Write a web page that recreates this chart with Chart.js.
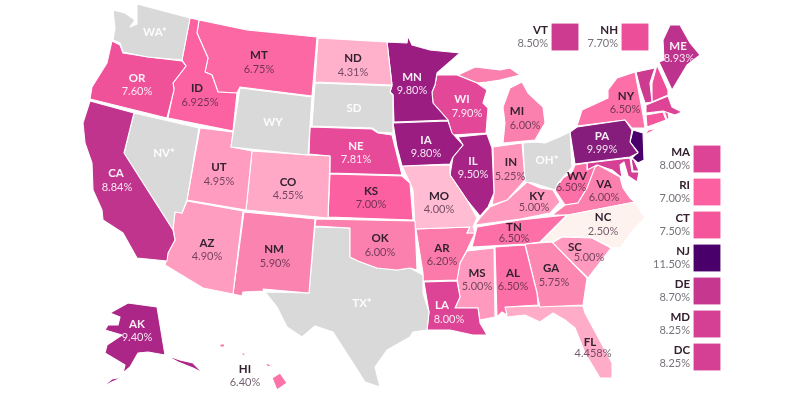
<!DOCTYPE html>
<html>
<head>
<meta charset="utf-8">
<script src="https://cdn.jsdelivr.net/npm/chart.js@4"></script>
<style>
    html, body { margin: 0; padding: 0; background: #fff; }
    #map { display: block; }
</style>
</head>
<body>
<canvas id="map" width="800" height="400"></canvas>
<script>
// rates per state, empty = grey state
const mapCodes = ['WA*','OR','CA','NV*','ID','MT','WY','UT','CO','AZ','NM','ND','SD','NE','KS','OK','TX*','MN','IA','MO','AR','LA','WI','IL','MI','IN','OH*','KY','TN','MS','AL','GA','FL','SC','NC','VA','WV','PA','NY','ME','AK','HI'];
const mapRates = ['','7.60%','8.84%','','6.925%','6.75%','','4.95%','4.55%','4.90%','5.90%','4.31%','','7.81%','7.00%','6.00%','','9.80%','9.80%','4.00%','6.20%','8.00%','7.90%','9.50%','6.00%','5.25%','','5.00%','6.50%','5.00%','6.50%','5.75%','4.458%','5.00%','2.50%','6.00%','6.50%','9.99%','6.50%','8.93%','9.40%','6.40%'];
const sideCodes = ['VT','NH','MA','RI','CT','NJ','DE','MD','DC'];
const sideRates = ['8.50%','7.70%','8.00%','7.00%','7.50%','11.50%','8.70%','8.25%','8.25%'];

// outlines, in picture units
const shapeWA = [[137,4],[190,18],[182,60],[148,57],[123,52],[120,43],[113,40],[115,28],[113,10],[125,13],[135,20],[130,27],[137,24]];
const shapeOR = [[112,41],[120,45],[123,53],[148,57],[182,61],[186,66],[173,83],[174,90],[167,118],[90,99],[92,87],[107,63]];
const shapeCA = [[90,101],[134,113],[124,153],[173,230],[175,240],[168,253],[167,261],[137,258],[123,233],[103,220],[102,210],[93,190],[92,163],[85,143],[83,123]];
const shapeNV = [[134,113],[199,128],[187,200],[182,213],[175,212],[173,230],[124,153]];
const shapeID = [[190,18],[199,20],[197,33],[208,58],[205,72],[212,75],[218,92],[237,93],[233,131],[168,118],[174,88],[173,83],[186,66],[182,60]];
const shapeMT = [[199,20],[247,30],[317,37],[312,96],[240,87],[237,93],[218,92],[212,75],[205,72],[208,58],[197,33]];
const shapeWY = [[240,88],[312,97],[308,155],[231,147]];
const shapeUT = [[200,128],[233,132],[231,147],[252,151],[246,210],[187,200]];
const shapeCO = [[252,151],[309,155],[330,156],[328,218],[246,210]];
const shapeAZ = [[187,201],[243,211],[233,294],[203,288],[165,265],[168,253],[175,240],[173,227],[175,212],[182,213]];
const shapeNM = [[244,212],[315,219],[309,293],[263,289],[264,291],[243,292],[242,296],[233,294]];
const shapeND = [[318,38],[387,42],[392,85],[315,82]];
const shapeSD = [[315,83],[392,86],[390,92],[393,95],[393,133],[378,132],[372,128],[312,126]];
const shapeNE = [[310,127],[372,129],[378,133],[392,135],[402,175],[330,173],[330,156],[309,154]];
const shapeKS = [[330,174],[402,176],[410,183],[413,220],[328,217]];
const shapeOK = [[316,219],[415,221],[417,270],[410,268],[397,270],[377,268],[358,261],[350,257],[350,228],[315,226]];
const shapeTX = [[315,227],[350,228],[350,257],[358,261],[377,268],[397,270],[410,268],[423,275],[423,293],[429,312],[427,330],[413,332],[410,337],[387,350],[375,367],[380,387],[365,382],[353,363],[340,343],[333,332],[315,326],[302,337],[287,327],[277,307],[265,292],[309,293]];
const shapeMN = [[387,42],[407,43],[408,36],[412,45],[430,50],[460,53],[437,73],[435,85],[432,92],[433,103],[448,120],[394,122],[393,95],[390,92],[392,85]];
const shapeIA = [[393,123],[448,121],[452,133],[463,145],[453,157],[450,164],[402,166],[397,147]];
const shapeMO = [[402,166],[450,165],[450,175],[467,200],[477,218],[473,227],[475,233],[467,233],[470,227],[415,229],[413,190],[410,183]];
const shapeAR = [[416,229],[470,227],[467,233],[475,233],[467,250],[460,263],[457,280],[423,281],[423,273]];
const shapeLA = [[424,282],[457,281],[460,297],[455,308],[478,308],[480,323],[487,335],[473,335],[450,330],[427,330],[429,312]];
const shapeWI = [[437,75],[457,75],[477,83],[487,90],[483,103],[488,108],[486,133],[452,135],[448,120],[433,103],[432,92],[435,85]];
const shapeIL = [[458,137],[487,134],[492,148],[494,193],[488,207],[480,216],[467,200],[450,175],[453,157],[463,145]];
const shapeMIlow = [[503,107],[510,88],[522,82],[528,93],[543,107],[545,123],[535,140],[503,143],[505,123]];
const shapeMIup = [[458,75],[475,67],[500,70],[510,68],[520,75],[500,80],[487,82],[477,83]];
const shapeIN = [[493,147],[522,143],[525,180],[507,200],[492,205],[494,193]];
const shapeOH = [[523,143],[535,142],[545,143],[557,138],[570,132],[572,167],[558,183],[555,190],[533,183],[525,182]];
const shapeKY = [[475,225],[480,218],[490,207],[507,200],[527,182],[540,188],[553,190],[560,202],[550,213],[520,219]];
const shapeTN = [[472,247],[477,227],[520,220],[567,215],[540,242],[525,244]];
const shapeMS = [[467,251],[494,248],[495,317],[480,320],[478,308],[455,308],[460,297],[457,278],[460,263]];
const shapeAL = [[495,247],[525,245],[537,293],[538,305],[505,307],[507,315],[502,312],[497,317]];
const shapeGA = [[525,244],[552,242],[587,278],[583,305],[540,307],[537,293]];
const shapeFL = [[505,307],[538,306],[583,306],[585,313],[612,363],[612,378],[600,378],[585,353],[575,328],[565,320],[553,313],[540,322],[525,315],[507,317]];
const shapeSC = [[552,243],[562,237],[592,238],[611,248],[588,278]];
const shapeNC = [[540,242],[568,215],[635,202],[645,218],[633,230],[620,248],[611,247],[592,237],[562,237],[552,242]];
const shapeVA = [[552,215],[565,205],[578,203],[587,188],[595,167],[598,165],[620,177],[623,188],[630,198],[635,202],[568,215]];
const shapeWV = [[555,190],[563,178],[572,172],[575,165],[587,163],[587,170],[597,165],[595,172],[587,188],[578,203],[565,205]];
const shapePA = [[570,132],[577,127],[625,120],[632,130],[630,142],[638,153],[630,157],[575,164]];
const shapeNJ = [[633,130],[643,133],[644,160],[638,163],[632,158],[638,152],[630,142]];
const shapeNY = [[582,110],[608,98],[608,90],[617,78],[635,72],[643,115],[645,128],[632,128],[625,120],[577,126]];
const shapeLI = [[645,135],[658,128],[648,130]];
const shapeVT = [[636,72],[655,68],[650,83],[652,102],[645,103],[640,88]];
const shapeNH = [[657,65],[668,90],[668,95],[652,102],[652,83]];
const shapeME = [[659,62],[664,60],[663,40],[670,25],[680,25],[690,43],[700,55],[687,65],[672,90]];
const shapeMA = [[646,105],[668,96],[672,107],[682,112],[675,115],[663,111],[646,113]];
const shapeCT = [[646,115],[663,112],[666,120],[647,127]];
const shapeRI = [[664,111],[668,112],[669,118],[667,120]];
const shapeMD = [[587,163],[630,158],[632,172],[639,172],[637,182],[628,176],[624,162],[620,165],[622,178],[612,170],[600,166],[588,172]];
const shapeDE = [[631,158],[634,160],[639,171],[633,171]];
const shapeAK = [[110,313],[128,303],[157,307],[165,355],[148,352],[138,353],[130,367],[123,373],[125,365],[105,353],[107,345],[122,335],[105,330],[108,325],[118,325],[120,317]];
const shapeAKpan = [[165,355],[180,360],[193,363],[203,373],[193,368],[178,362]];
const shapeAKisl = [[123,377],[112,382],[102,387],[112,379]];
const shapeHIbig = [[272,378],[280,373],[287,383],[277,390]];
const shapeHImaui = [[265,363],[272,365],[268,367]];
const shapeHIoahu = [[241,352],[246,354],[243,356]];
const shapeHIkauai = [[220,344],[225,344],[224,347],[220,347]];

const shapeParts = [
    ['WA*', shapeWA], ['OR', shapeOR], ['CA', shapeCA], ['NV*', shapeNV], ['ID', shapeID], ['MT', shapeMT],
    ['WY', shapeWY], ['UT', shapeUT], ['CO', shapeCO], ['AZ', shapeAZ], ['NM', shapeNM], ['ND', shapeND],
    ['SD', shapeSD], ['NE', shapeNE], ['KS', shapeKS], ['OK', shapeOK], ['TX*', shapeTX], ['MN', shapeMN],
    ['IA', shapeIA], ['MO', shapeMO], ['AR', shapeAR], ['LA', shapeLA], ['WI', shapeWI], ['IL', shapeIL],
    ['MI', shapeMIlow], ['MI', shapeMIup], ['IN', shapeIN], ['OH*', shapeOH], ['KY', shapeKY], ['TN', shapeTN],
    ['MS', shapeMS], ['AL', shapeAL], ['GA', shapeGA], ['FL', shapeFL], ['SC', shapeSC], ['NC', shapeNC],
    ['VA', shapeVA], ['WV', shapeWV], ['PA', shapePA], ['NJ', shapeNJ], ['NY', shapeNY], ['NY', shapeLI],
    ['VT', shapeVT], ['NH', shapeNH], ['ME', shapeME], ['MA', shapeMA], ['CT', shapeCT], ['RI', shapeRI],
    ['MD', shapeMD], ['DE', shapeDE], ['AK', shapeAK], ['AK', shapeAKpan], ['AK', shapeAKisl],
    ['HI', shapeHIbig], ['HI', shapeHImaui], ['HI', shapeHIoahu], ['HI', shapeHIkauai]
];

// label spots: code x, code y, rate x, rate y
const mapSpots = [[155,32,0,0],[137,78,137,91],[116,173,117,187],[164,153,0,0],[197,88,200,102],[259,55,259,69],[273,122,0,0],[219,167,219,181],[288,182,288,195],[207,243,207,256],[274,249,275,263],[353,58,353,72],[354,108,0,0],[356,146,356,159],[371,191,371,204],[380,238,380,252],[362,303,0,0],[412,77,412,90],[426,140,426,153],[439,196,439,209],[442,248,442,261],[442,305,449,319],[462,99,467,113],[473,161,473,174],[517,111,525,125],[511,162,510,176],[547,160,0,0],[537,196,534,207],[514,227,514,238],[477,273,477,286],[513,273,513,286],[551,268,554,282],[590,342,593,353],[575,247,589,257],[603,217,603,231],[604,184,604,197],[577,176,571,187],[602,136,602,149],[626,96,625,109],[678,46,679,58],[137,324,137,337],[245,369,245,382]];
const sideSpots = [[565,37],[635,37],[707,159],[707,192],[707,225],[707,258],[707,291],[707,324],[707,357]];
const whiteLabels = ['WA*','OR','CA','NV*','WY','SD','NE','MN','IA','WI','IL','OH*','LA','PA','ME','AK','TX*'];

// rate -> colour ramp
const rampStops = [2.5, 4, 5, 6, 7, 7.5, 8, 8.7, 9.8, 10, 11.5];
const rampColors = ['#fdf2ee','#ffbcd2','#ff9abe','#fb80ad','#fc60a0','#f5559b','#de4496','#c6378f','#9b1d82','#851d7c','#4a006a'];

function hexToRgb(hex) {
    return [1, 3, 5].map(i => parseInt(hex.substr(i, 2), 16));
}

function rateColor(label) {
    if (!label) return '#d9d9d9';
    const v = parseFloat(label);
    for (let i = 1; i < rampStops.length; i++) {
        if (v <= rampStops[i]) {
            const t = (v - rampStops[i - 1]) / (rampStops[i] - rampStops[i - 1]);
            const a = hexToRgb(rampColors[i - 1]);
            const b = hexToRgb(rampColors[i]);
            return 'rgb(' + a.map((c, k) => Math.round(c + (b[k] - c) * t)).join(',') + ')';
        }
    }
    return rampColors[rampColors.length - 1];
}

function rateOf(code) {
    const i = mapCodes.indexOf(code);
    return i >= 0 ? mapRates[i] : sideRates[sideCodes.indexOf(code)];
}

const datasets = shapeParts.map(([code, pts]) => ({
    data: pts.concat([pts[0]]).map(p => ({ x: p[0], y: p[1] })),
    showLine: true,
    fill: 'shape',
    tension: 0,
    pointRadius: 0,
    borderColor: '#ffffff',
    borderWidth: 1.1,
    borderJoinStyle: 'round',
    backgroundColor: rateColor(rateOf(code))
}));

sideCodes.forEach((code, i) => {
    datasets.push({
        data: [{ x: sideSpots[i][0], y: sideSpots[i][1] }],
        showLine: false,
        pointStyle: 'rect',
        pointRadius: 19,
        pointBorderWidth: 0,
        pointBackgroundColor: rateColor(sideRates[i])
    });
});

const stateLabels = {
    id: 'stateLabels',
    afterDatasetsDraw(chart) {
        const { ctx, scales: { x, y } } = chart;
        ctx.save();
        ctx.textBaseline = 'middle';
        ctx.textAlign = 'center';
        mapCodes.forEach((code, i) => {
            const s = mapSpots[i];
            const white = whiteLabels.includes(code);
            ctx.font = 'bold 11.5px Lato';
            ctx.fillStyle = white ? 'rgba(255,255,255,0.92)' : '#33212f';
            ctx.fillText(code, x.getPixelForValue(s[0]), y.getPixelForValue(s[1]));
            if (mapRates[i]) {
                ctx.font = '11px Lato';
                ctx.fillStyle = white ? 'rgba(255,255,255,0.88)' : 'rgba(60,30,55,0.72)';
                ctx.fillText(mapRates[i], x.getPixelForValue(s[2]), y.getPixelForValue(s[3]));
            }
        });
        ctx.textAlign = 'right';
        sideCodes.forEach((code, i) => {
            const s = sideSpots[i];
            const right = s[0] - 17;
            ctx.font = 'bold 11.5px Lato';
            ctx.fillStyle = '#33212f';
            ctx.fillText(code, x.getPixelForValue(right), y.getPixelForValue(s[1] - 7));
            ctx.font = '11px Lato';
            ctx.fillStyle = '#77727a';
            ctx.fillText(sideRates[i], x.getPixelForValue(right), y.getPixelForValue(s[1] + 6));
        });
        ctx.restore();
    }
};

new Chart(document.getElementById('map'), {
    type: 'scatter',
    data: { datasets: datasets },
    plugins: [stateLabels],
    options: {
        responsive: false,
        animation: false,
        devicePixelRatio: 1,
        layout: { padding: 0, autoPadding: false },
        plugins: { legend: { display: false }, tooltip: { enabled: false } },
        scales: {
            x: { type: 'linear', min: 0, max: 800, display: false },
            y: { type: 'linear', min: 0, max: 400, reverse: true, display: false }
        }
    }
});
</script>
</body>
</html>
